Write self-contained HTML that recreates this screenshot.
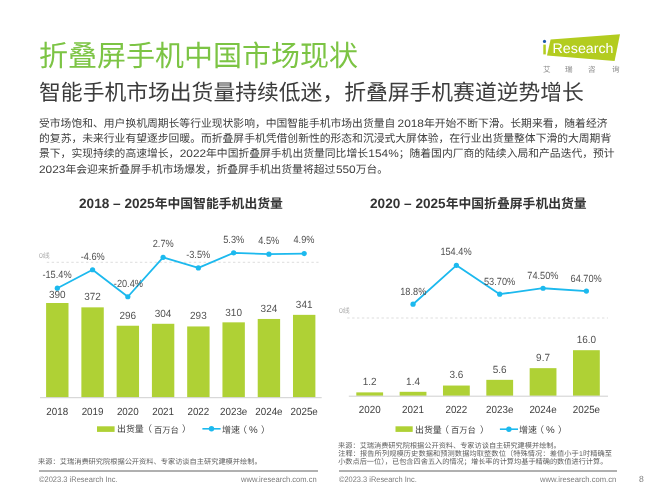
<!DOCTYPE html>
<html lang="zh-CN"><head><meta charset="utf-8"><title>折叠屏手机中国市场现状</title><style>
html,body{margin:0;padding:0;background:#fff}
body{width:654px;height:491px;overflow:hidden}
.slide{position:relative;width:654px;height:491px;overflow:hidden;background:#fff;font-family:"Liberation Sans","Noto Sans CJK SC",sans-serif;will-change:transform}
h1,h2,p,figure,footer{margin:0;padding:0;font:inherit}
svg.t{position:absolute;overflow:visible}
svg text{font-family:"Liberation Sans","Noto Sans CJK SC",sans-serif;text-rendering:geometricPrecision}
.rule{position:absolute;height:1.5px;background:#b0b0b0}
</style></head>
<body>
<div class="slide">
<h1><svg class="t" style="left:38.6px;top:34.96px" width="320" height="43.04" viewBox="0 -30.74 320 43.04" fill="#7CC444"><text y="0" font-size="29"><tspan x="0">折叠屏手机中国市场现状</tspan></text></svg></h1>
<h2><svg class="t" style="left:38.6px;top:76.06px" width="546" height="32.96" viewBox="0 -23.54 546 32.96" fill="#3c3c3c"><text y="0" font-size="21.8"><tspan x="0">智能手机市场出货量持续低迷，折叠屏手机赛道逆势增长</tspan></text></svg></h2>
<div class="logo"><svg class="t" style="left:535px;top:28px" width="100" height="50" viewBox="535 28 100 50" role="img" aria-label="iResearch 艾瑞咨询">
<polygon points="550.6,39.4 620,34.3 614.6,61 547,55.4" fill="#B3CC1F"/>
<rect x="543.3" y="44.6" width="2.5" height="9.8" fill="#B3CC1F"/>
<circle cx="544.5" cy="41.4" r="1.6" fill="#1F5BAA"/>
<text x="552.6" y="53.3" font-size="13.8" fill="#fff" textLength="60.9" lengthAdjust="spacingAndGlyphs">Research</text>
</svg></div>
<svg class="t" style="left:542.9px;top:63.5px" width="8.6" height="11.07" viewBox="0 -7.9 8.6 11.07" fill="#8a8a8a"><text y="0" font-size="7.6"><tspan x="0">艾</tspan></text></svg>
<svg class="t" style="left:565.4px;top:63.5px" width="8.6" height="11.07" viewBox="0 -7.9 8.6 11.07" fill="#8a8a8a"><text y="0" font-size="7.6"><tspan x="0">瑞</tspan></text></svg>
<svg class="t" style="left:587.9px;top:63.5px" width="8.6" height="11.07" viewBox="0 -7.9 8.6 11.07" fill="#8a8a8a"><text y="0" font-size="7.6"><tspan x="0">咨</tspan></text></svg>
<svg class="t" style="left:611.9px;top:63.5px" width="8.6" height="11.07" viewBox="0 -7.9 8.6 11.07" fill="#8a8a8a"><text y="0" font-size="7.6"><tspan x="0">询</tspan></text></svg>
<p>
<svg class="t" style="left:38.6px;top:115.6px" width="570.7" height="15.83" viewBox="0 -11.3 570.7 15.83" fill="#404040"><text y="0" font-size="10.8"><tspan x="0">受市场饱和、用户换机周期长等行业现状影响，中国智能手机市场出货量自</tspan><tspan x="358.56" textLength="26.43" lengthAdjust="spacingAndGlyphs">2018</tspan><tspan x="384.98">年开始不断下滑。长期来看，随着经济</tspan></text></svg>
<svg class="t" style="left:38.6px;top:130.9px" width="577.5" height="15.83" viewBox="0 -11.3 577.5 15.83" fill="#404040"><text y="0" font-size="10.8"><tspan x="0">的复苏，未来行业有望逐步回暖。而折叠屏手机凭借创新性的形态和沉浸式大屏体验，在行业出货量整体下滑的大周期背</tspan></text></svg>
<svg class="t" style="left:38.6px;top:146.2px" width="577.2" height="15.83" viewBox="0 -11.3 577.2 15.83" fill="#404040"><text y="0" font-size="10.8"><tspan x="0">景下，实现持续的高速增长，</tspan><tspan x="140.68" textLength="26.43" lengthAdjust="spacingAndGlyphs">2022</tspan><tspan x="167.06">年中国折叠屏手机出货量同比增长</tspan><tspan x="329.38" textLength="30.38" lengthAdjust="spacingAndGlyphs">154%</tspan><tspan x="359.72">；随着国内厂商的陆续入局和产品迭代，预计</tspan></text></svg>
<svg class="t" style="left:38.6px;top:161.5px" width="350.2" height="15.83" viewBox="0 -11.3 350.2 15.83" fill="#404040"><text y="0" font-size="10.8"><tspan x="0" textLength="26.43" lengthAdjust="spacingAndGlyphs">2023</tspan><tspan x="26.38">年会迎来折叠屏手机市场爆发，折叠屏手机出货量将超过</tspan><tspan x="296.91" textLength="19.82" lengthAdjust="spacingAndGlyphs">550</tspan><tspan x="316.69">万台。</tspan></text></svg>
</p>
<figure>
<svg class="t" style="left:78.6px;top:194px" width="204.93" height="19.04" viewBox="0 -13.6 204.93 19.04" fill="#333333"><text y="0" font-size="13.6" font-weight="bold"><tspan x="0" textLength="75.63" lengthAdjust="spacingAndGlyphs">2018 – 2025</tspan><tspan x="75.63" font-size="12.83">年中国智能手机出货量</tspan></text></svg>
<svg class="t" style="left:0;top:180px" width="330" height="260" viewBox="0 180 330 260"><line x1="46.8" y1="262.3" x2="318.5" y2="262.3" stroke="#d9d9d9" stroke-width="0.9" stroke-dasharray="2.4 2.5"/>
<rect x="46.1" y="303" width="22.4" height="94.3" fill="#AFD135"/>
<rect x="81.37" y="307.35" width="22.4" height="89.95" fill="#AFD135"/>
<rect x="116.64" y="325.73" width="22.4" height="71.57" fill="#AFD135"/>
<rect x="151.91" y="323.79" width="22.4" height="73.51" fill="#AFD135"/>
<rect x="187.18" y="326.45" width="22.4" height="70.85" fill="#AFD135"/>
<rect x="222.45" y="322.34" width="22.4" height="74.96" fill="#AFD135"/>
<rect x="257.72" y="318.96" width="22.4" height="78.34" fill="#AFD135"/>
<rect x="292.99" y="314.85" width="22.4" height="82.45" fill="#AFD135"/>
<line x1="40" y1="397.7" x2="321.7" y2="397.7" stroke="#cfcfcf" stroke-width="1"/>
<polyline points="57.3,288.2 92.57,269.76 127.84,296.74 163.11,257.29 198.38,267.88 233.65,252.85 268.92,254.21 304.19,253.53" fill="none" stroke="#1CB9EE" stroke-width="1.8" stroke-linejoin="round"/>
<circle cx="57.3" cy="288.2" r="2.6" fill="#1CB9EE"/>
<circle cx="92.57" cy="269.76" r="2.6" fill="#1CB9EE"/>
<circle cx="127.84" cy="296.74" r="2.6" fill="#1CB9EE"/>
<circle cx="163.11" cy="257.29" r="2.6" fill="#1CB9EE"/>
<circle cx="198.38" cy="267.88" r="2.6" fill="#1CB9EE"/>
<circle cx="233.65" cy="252.85" r="2.6" fill="#1CB9EE"/>
<circle cx="268.92" cy="254.21" r="2.6" fill="#1CB9EE"/>
<circle cx="304.19" cy="253.53" r="2.6" fill="#1CB9EE"/>
<text x="57.3" y="297.8" font-size="10.4" fill="#525252" text-anchor="middle" textLength="16.66" lengthAdjust="spacingAndGlyphs">390</text>
<text x="92.57" y="300.45" font-size="10.4" fill="#525252" text-anchor="middle" textLength="16.66" lengthAdjust="spacingAndGlyphs">372</text>
<text x="127.84" y="318.53" font-size="10.4" fill="#525252" text-anchor="middle" textLength="16.66" lengthAdjust="spacingAndGlyphs">296</text>
<text x="163.11" y="316.59" font-size="10.4" fill="#525252" text-anchor="middle" textLength="16.66" lengthAdjust="spacingAndGlyphs">304</text>
<text x="198.38" y="319.25" font-size="10.4" fill="#525252" text-anchor="middle" textLength="16.66" lengthAdjust="spacingAndGlyphs">293</text>
<text x="233.65" y="315.54" font-size="10.4" fill="#525252" text-anchor="middle" textLength="16.66" lengthAdjust="spacingAndGlyphs">310</text>
<text x="268.92" y="311.76" font-size="10.4" fill="#525252" text-anchor="middle" textLength="16.66" lengthAdjust="spacingAndGlyphs">324</text>
<text x="304.19" y="307.65" font-size="10.4" fill="#525252" text-anchor="middle" textLength="16.66" lengthAdjust="spacingAndGlyphs">341</text>
<text x="57.3" y="414.5" font-size="10.4" fill="#404040" text-anchor="middle" textLength="21.86" lengthAdjust="spacingAndGlyphs">2018</text>
<text x="92.57" y="414.5" font-size="10.4" fill="#404040" text-anchor="middle" textLength="21.86" lengthAdjust="spacingAndGlyphs">2019</text>
<text x="127.84" y="414.5" font-size="10.4" fill="#404040" text-anchor="middle" textLength="21.86" lengthAdjust="spacingAndGlyphs">2020</text>
<text x="163.11" y="414.5" font-size="10.4" fill="#404040" text-anchor="middle" textLength="21.86" lengthAdjust="spacingAndGlyphs">2021</text>
<text x="198.38" y="414.5" font-size="10.4" fill="#404040" text-anchor="middle" textLength="21.86" lengthAdjust="spacingAndGlyphs">2022</text>
<text x="233.65" y="414.5" font-size="10.4" fill="#404040" text-anchor="middle" textLength="27.33" lengthAdjust="spacingAndGlyphs">2023e</text>
<text x="268.92" y="414.5" font-size="10.4" fill="#404040" text-anchor="middle" textLength="27.33" lengthAdjust="spacingAndGlyphs">2024e</text>
<text x="304.19" y="414.5" font-size="10.4" fill="#404040" text-anchor="middle" textLength="27.33" lengthAdjust="spacingAndGlyphs">2025e</text>
<text x="57" y="278.1" font-size="10.4" fill="#525252" text-anchor="middle" textLength="29.16" lengthAdjust="spacingAndGlyphs">-15.4%</text>
<text x="92.7" y="260" font-size="10.4" fill="#525252" text-anchor="middle" textLength="24.04" lengthAdjust="spacingAndGlyphs">-4.6%</text>
<text x="128.4" y="287" font-size="10.4" fill="#525252" text-anchor="middle" textLength="29.16" lengthAdjust="spacingAndGlyphs">-20.4%</text>
<text x="163.2" y="247.1" font-size="10.4" fill="#525252" text-anchor="middle" textLength="20.98" lengthAdjust="spacingAndGlyphs">2.7%</text>
<text x="198.2" y="258.1" font-size="10.4" fill="#525252" text-anchor="middle" textLength="24.04" lengthAdjust="spacingAndGlyphs">-3.5%</text>
<text x="233.7" y="243.1" font-size="10.4" fill="#525252" text-anchor="middle" textLength="20.98" lengthAdjust="spacingAndGlyphs">5.3%</text>
<text x="268.7" y="244.4" font-size="10.4" fill="#525252" text-anchor="middle" textLength="20.98" lengthAdjust="spacingAndGlyphs">4.5%</text>
<text x="304" y="243.1" font-size="10.4" fill="#525252" text-anchor="middle" textLength="20.98" lengthAdjust="spacingAndGlyphs">4.9%</text><rect x="97" y="426.3" width="17.6" height="5.6" fill="#AFD135"/><line x1="202.4" y1="428.8" x2="220.6" y2="428.8" stroke="#1CB9EE" stroke-width="1.6"/><circle cx="211.5" cy="428.8" r="2.7" fill="#1CB9EE"/></svg>
<svg class="t" style="left:117px;top:423.49px" width="27.85" height="13.03" viewBox="0 -9.31 27.85 13.03" fill="#404040"><text y="0" font-size="8.95"><tspan x="0">出货量</tspan></text></svg><svg class="t" style="left:142.5px;top:423.44px" width="10" height="13.1" viewBox="0 -9.36 10 13.1" fill="#404040"><text y="0" font-size="9"><tspan x="0">（</tspan></text></svg><svg class="t" style="left:153.6px;top:424.17px" width="25.9" height="12.08" viewBox="0 -8.63 25.9 12.08" fill="#404040"><text y="0" font-size="8.3"><tspan x="0">百万台</tspan></text></svg><svg class="t" style="left:182.2px;top:423.44px" width="10" height="13.1" viewBox="0 -9.36 10 13.1" fill="#404040"><text y="0" font-size="9"><tspan x="0">）</tspan></text></svg><svg class="t" style="left:222px;top:423px" width="19" height="13.72" viewBox="0 -9.8 19 13.72" fill="#404040"><text y="0" font-size="9"><tspan x="0">增速</tspan></text></svg><svg class="t" style="left:237.8px;top:423px" width="10" height="13.72" viewBox="0 -9.8 10 13.72" fill="#404040"><text y="0" font-size="9"><tspan x="0">（</tspan></text></svg><svg class="t" style="left:248.6px;top:422.82px" width="9.71" height="13.98" viewBox="0 -9.98 9.71 13.98" fill="#404040"><text y="0" font-size="9.8"><tspan x="0" textLength="8.71" lengthAdjust="spacingAndGlyphs">%</tspan></text></svg><svg class="t" style="left:261.1px;top:423px" width="10" height="13.72" viewBox="0 -9.8 10 13.72" fill="#404040"><text y="0" font-size="9"><tspan x="0">）</tspan></text></svg>
<svg class="t" style="left:38.8px;top:251.32px" width="11.79" height="10.05" viewBox="0 -7.18 11.79 10.05" fill="#adadad"><text y="0" font-size="7"><tspan x="0" textLength="3.89" lengthAdjust="spacingAndGlyphs">0</tspan><tspan x="3.89">线</tspan></text></svg>
<svg class="t" style="left:38.1px;top:456.49px" width="224.82" height="10.51" viewBox="0 -7.51 224.82 10.51" fill="#5e5e5e"><text y="0" font-size="7.22"><tspan x="0">来源：艾瑞消费研究院根据公开资料、专家访谈自主研究建模并绘制。</tspan></text></svg>
</figure>
<figure>
<svg class="t" style="left:369.8px;top:194px" width="217.76" height="19.04" viewBox="0 -13.6 217.76 19.04" fill="#333333"><text y="0" font-size="13.6" font-weight="bold"><tspan x="0" textLength="75.63" lengthAdjust="spacingAndGlyphs">2020 – 2025</tspan><tspan x="75.63" font-size="12.83">年中国折叠屏手机出货量</tspan></text></svg>
<svg class="t" style="left:330px;top:180px" width="324" height="260" viewBox="330 180 324 260"><line x1="347.2" y1="318" x2="608" y2="318" stroke="#d9d9d9" stroke-width="0.9" stroke-dasharray="2.4 2.5"/>
<rect x="356.3" y="392.38" width="26.8" height="3.42" fill="#AFD135"/>
<rect x="399.64" y="391.81" width="26.8" height="3.99" fill="#AFD135"/>
<rect x="442.98" y="385.54" width="26.8" height="10.26" fill="#AFD135"/>
<rect x="486.32" y="379.84" width="26.8" height="15.96" fill="#AFD135"/>
<rect x="529.66" y="368.16" width="26.8" height="27.64" fill="#AFD135"/>
<rect x="573" y="350.2" width="26.8" height="45.6" fill="#AFD135"/>
<line x1="348.8" y1="396.2" x2="608" y2="396.2" stroke="#cfcfcf" stroke-width="1"/>
<polyline points="413.04,304.21 456.38,265.3 499.72,294.19 543.06,288.23 586.4,291.04" fill="none" stroke="#1CB9EE" stroke-width="1.8" stroke-linejoin="round"/>
<circle cx="413.04" cy="304.21" r="2.6" fill="#1CB9EE"/>
<circle cx="456.38" cy="265.3" r="2.6" fill="#1CB9EE"/>
<circle cx="499.72" cy="294.19" r="2.6" fill="#1CB9EE"/>
<circle cx="543.06" cy="288.23" r="2.6" fill="#1CB9EE"/>
<circle cx="586.4" cy="291.04" r="2.6" fill="#1CB9EE"/>
<text x="369.7" y="385.18" font-size="10.4" fill="#525252" text-anchor="middle" textLength="13.88" lengthAdjust="spacingAndGlyphs">1.2</text>
<text x="413.04" y="384.61" font-size="10.4" fill="#525252" text-anchor="middle" textLength="13.88" lengthAdjust="spacingAndGlyphs">1.4</text>
<text x="456.38" y="378.34" font-size="10.4" fill="#525252" text-anchor="middle" textLength="13.88" lengthAdjust="spacingAndGlyphs">3.6</text>
<text x="499.72" y="372.64" font-size="10.4" fill="#525252" text-anchor="middle" textLength="13.88" lengthAdjust="spacingAndGlyphs">5.6</text>
<text x="543.06" y="360.96" font-size="10.4" fill="#525252" text-anchor="middle" textLength="13.88" lengthAdjust="spacingAndGlyphs">9.7</text>
<text x="586.4" y="343" font-size="10.4" fill="#525252" text-anchor="middle" textLength="19.43" lengthAdjust="spacingAndGlyphs">16.0</text>
<text x="369.7" y="412.9" font-size="10.4" fill="#404040" text-anchor="middle" textLength="21.86" lengthAdjust="spacingAndGlyphs">2020</text>
<text x="413.04" y="412.9" font-size="10.4" fill="#404040" text-anchor="middle" textLength="21.86" lengthAdjust="spacingAndGlyphs">2021</text>
<text x="456.38" y="412.9" font-size="10.4" fill="#404040" text-anchor="middle" textLength="21.86" lengthAdjust="spacingAndGlyphs">2022</text>
<text x="499.72" y="412.9" font-size="10.4" fill="#404040" text-anchor="middle" textLength="27.33" lengthAdjust="spacingAndGlyphs">2023e</text>
<text x="543.06" y="412.9" font-size="10.4" fill="#404040" text-anchor="middle" textLength="27.33" lengthAdjust="spacingAndGlyphs">2024e</text>
<text x="586.4" y="412.9" font-size="10.4" fill="#404040" text-anchor="middle" textLength="27.33" lengthAdjust="spacingAndGlyphs">2025e</text>
<text x="413.3" y="294.7" font-size="10.4" fill="#525252" text-anchor="middle" textLength="26.1" lengthAdjust="spacingAndGlyphs">18.8%</text>
<text x="456" y="255.1" font-size="10.4" fill="#525252" text-anchor="middle" textLength="31.22" lengthAdjust="spacingAndGlyphs">154.4%</text>
<text x="499.6" y="284.7" font-size="10.4" fill="#525252" text-anchor="middle" textLength="31.22" lengthAdjust="spacingAndGlyphs">53.70%</text>
<text x="542.9" y="278.5" font-size="10.4" fill="#525252" text-anchor="middle" textLength="31.22" lengthAdjust="spacingAndGlyphs">74.50%</text>
<text x="586.2" y="281.5" font-size="10.4" fill="#525252" text-anchor="middle" textLength="31.22" lengthAdjust="spacingAndGlyphs">64.70%</text><rect x="395.5" y="426.3" width="17.2" height="5.6" fill="#AFD135"/><line x1="499.9" y1="429.2" x2="518" y2="429.2" stroke="#1CB9EE" stroke-width="1.6"/><circle cx="508.9" cy="429.2" r="2.7" fill="#1CB9EE"/></svg>
<svg class="t" style="left:414.5px;top:423.69px" width="27.85" height="13.03" viewBox="0 -9.31 27.85 13.03" fill="#404040"><text y="0" font-size="8.95"><tspan x="0">出货量</tspan></text></svg><svg class="t" style="left:440px;top:423.64px" width="10" height="13.1" viewBox="0 -9.36 10 13.1" fill="#404040"><text y="0" font-size="9"><tspan x="0">（</tspan></text></svg><svg class="t" style="left:451.1px;top:424.37px" width="25.9" height="12.08" viewBox="0 -8.63 25.9 12.08" fill="#404040"><text y="0" font-size="8.3"><tspan x="0">百万台</tspan></text></svg><svg class="t" style="left:479.7px;top:423.64px" width="10" height="13.1" viewBox="0 -9.36 10 13.1" fill="#404040"><text y="0" font-size="9"><tspan x="0">）</tspan></text></svg><svg class="t" style="left:519.3px;top:423.2px" width="19" height="13.72" viewBox="0 -9.8 19 13.72" fill="#404040"><text y="0" font-size="9"><tspan x="0">增速</tspan></text></svg><svg class="t" style="left:535.1px;top:423.2px" width="10" height="13.72" viewBox="0 -9.8 10 13.72" fill="#404040"><text y="0" font-size="9"><tspan x="0">（</tspan></text></svg><svg class="t" style="left:545.9px;top:423.02px" width="9.71" height="13.98" viewBox="0 -9.98 9.71 13.98" fill="#404040"><text y="0" font-size="9.8"><tspan x="0" textLength="8.71" lengthAdjust="spacingAndGlyphs">%</tspan></text></svg><svg class="t" style="left:558.4px;top:423.2px" width="10" height="13.72" viewBox="0 -9.8 10 13.72" fill="#404040"><text y="0" font-size="9"><tspan x="0">）</tspan></text></svg>
<svg class="t" style="left:338.8px;top:306.22px" width="11.79" height="10.05" viewBox="0 -7.18 11.79 10.05" fill="#adadad"><text y="0" font-size="7"><tspan x="0" textLength="3.89" lengthAdjust="spacingAndGlyphs">0</tspan><tspan x="3.89">线</tspan></text></svg>
<svg class="t" style="left:337.9px;top:440.91px" width="224.2" height="10.48" viewBox="0 -7.49 224.2 10.48" fill="#5e5e5e"><text y="0" font-size="7.2"><tspan x="0">来源：艾瑞消费研究院根据公开资料、专家访谈自主研究建模并绘制。</tspan></text></svg>
<svg class="t" style="left:337.9px;top:448.96px" width="275.2" height="10.48" viewBox="0 -7.49 275.2 10.48" fill="#5e5e5e"><text y="0" font-size="7.2"><tspan x="0" textLength="240.9" lengthAdjust="spacing">注释：报告所列规模历史数据和预测数据均取整数位（特殊情况：差值小于</tspan><tspan x="241.08" font-size="7" textLength="3.89" lengthAdjust="spacingAndGlyphs">1</tspan><tspan x="245.08" textLength="29.1" lengthAdjust="spacing">时精确至</tspan></text></svg>
<svg class="t" style="left:337.9px;top:457.01px" width="274.6" height="10.48" viewBox="0 -7.49 274.6 10.48" fill="#5e5e5e"><text y="0" font-size="7.2"><tspan x="0">小数点后一位），已包含四舍五入的情况；增长率的计算均基于精确的数值进行计算。</tspan></text></svg>
</figure>
<div class="rule" style="left:38.8px;top:470.2px;width:279.2px"></div>
<div class="rule" style="left:338.8px;top:470.0px;width:278.6px"></div>
<footer>
<svg class="t" style="left:38.8px;top:472.9px" width="79.5" height="12" viewBox="0 -9 79.5 12"><text x="0" y="0" font-size="8" fill="#7a7a7a" textLength="78.5" lengthAdjust="spacingAndGlyphs">©2023.3 iResearch Inc.</text></svg>
<svg class="t" style="left:241.2px;top:472.9px" width="76.7" height="12" viewBox="0 -9 76.7 12"><text x="0" y="0" font-size="8" fill="#7a7a7a" textLength="75.7" lengthAdjust="spacingAndGlyphs">www.iresearch.com.cn</text></svg>
<svg class="t" style="left:338.8px;top:473px" width="78.7" height="12" viewBox="0 -9 78.7 12"><text x="0" y="0" font-size="8" fill="#7a7a7a" textLength="77.7" lengthAdjust="spacingAndGlyphs">©2023.3 iResearch Inc.</text></svg>
<svg class="t" style="left:540.2px;top:473px" width="77.2" height="12" viewBox="0 -9 77.2 12"><text x="0" y="0" font-size="8" fill="#7a7a7a" textLength="76.2" lengthAdjust="spacingAndGlyphs">www.iresearch.com.cn</text></svg>
<svg class="t" style="left:638.6px;top:473.2px" width="5.8" height="12" viewBox="0 -9 5.8 12"><text x="0" y="0" font-size="9" fill="#7a7a7a" textLength="4.8" lengthAdjust="spacingAndGlyphs">8</text></svg>
</footer>
</div>
</body></html>
